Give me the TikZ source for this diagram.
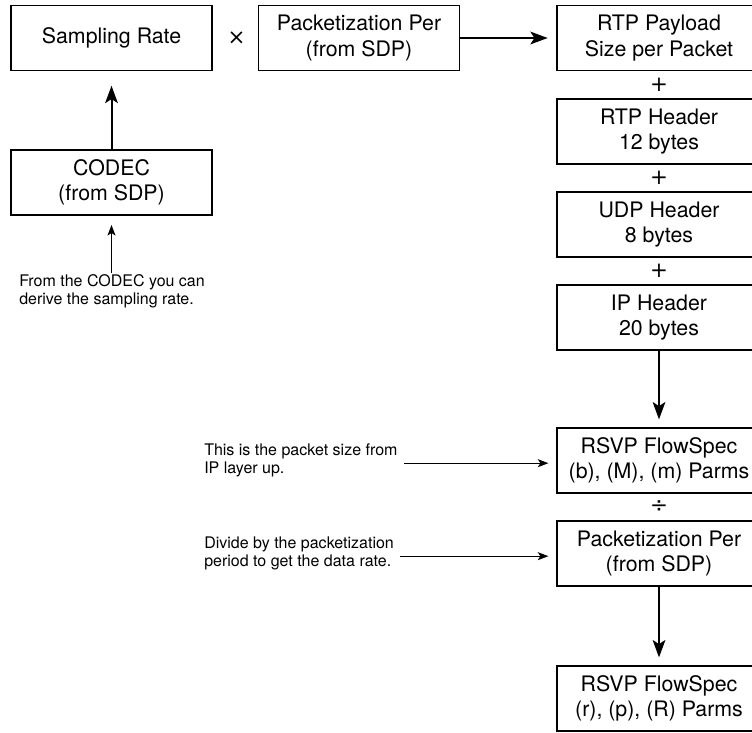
\documentclass[tikz,border=0pt]{standalone}
\usepackage{fontspec}
\setmainfont{TeX Gyre Heros}
\newfontfamily\signfont{DejaVu Sans}
\usetikzlibrary{arrows.meta}
\tikzset{
  blockbox/.style={draw, line width=0.9pt, minimum width=150.75pt, minimum height=48.75pt, align=center,
    inner sep=0pt, font=\fontsize{16}{19}\selectfont},
  widebox/.style={blockbox, minimum width=153pt},
  opsign/.style={inner sep=0pt, font=\signfont\fontsize{16}{16}\selectfont},
  notetext/.style={anchor=west, align=left, inner sep=0.75pt, font=\fontsize{12}{13.5}\selectfont},
  bigarrow/.style={line width=1.5pt, -{Stealth[length=13pt, width=9.5pt, inset=3pt]}},
  smallarrow/.style={line width=0.8pt, -{Stealth[length=8pt, width=6pt, inset=2pt]}},
}
\begin{document}
\begin{tikzpicture}[x=0.75pt,y=0.75pt,yscale=-1,xscale=1]
	\useasboundingbox (0,0) rectangle (752,732);
	% left column
	\node[blockbox] (rate) at (111.5,38) {Sampling Rate};
	\node[blockbox] (codec) at (111.5,182.5) {CODEC\\(from SDP)};
	\node[notetext] (codecnote) at (18,291) {From the CODEC you can\\derive the sampling rate.};
	\node[opsign] (times) at (236.5,38) {×};
	\node[blockbox] (packper) at (359,38) {Packetization Per\\(from SDP)};
	% right column
	\node[widebox] (payload) at (659,38) {RTP Payload\\Size per Packet};
	\node[opsign] (plusa) at (659,85) {+};
	\node[widebox] (rtphdr) at (659,131.5) {RTP Header\\12 bytes};
	\node[opsign] (plusb) at (659,178) {+};
	\node[widebox] (udphdr) at (659,224.5) {UDP Header\\8 bytes};
	\node[opsign] (plusc) at (659,271) {+};
	\node[widebox] (iphdr) at (659,317.5) {IP Header\\20 bytes};
	\node[widebox] (flowbm) at (659,460.5) {RSVP FlowSpec\\(b), (M), (m) Parms};
	\node[opsign] (divide) at (659,507) {÷};
	\node[widebox] (packpertwo) at (659,553.5) {Packetization Per\\(from SDP)};
	\node[widebox] (flowrp) at (659,698.5) {RSVP FlowSpec\\(r), (p), (R) Parms};
	% notes
	\node[notetext] (sizenote) at (203,460.5) {This is the packet size from\\IP layer up.};
	\node[notetext] (ratenote) at (203,553.5) {Divide by the packetization\\period to get the data rate.};
	% connectors
	\draw[bigarrow, shorten >=6.5pt] (packper.east) -- (payload.west);
	\draw[bigarrow, shorten >=11pt] (codec.north) -- (rate.south);
	\draw[smallarrow, shorten >=7pt] (codecnote.north -| codec.south) -- (codec.south);
	\draw[bigarrow, shorten >=6pt] (iphdr.south) -- (flowbm.north);
	\draw[bigarrow, shorten >=6pt] (packpertwo.south) -- (flowrp.north);
	\draw[smallarrow, shorten <=4pt, shorten >=6pt] ([yshift=2pt]sizenote.east |- flowbm.west) -- ([yshift=2pt]flowbm.west);
	\draw[smallarrow, shorten <=4pt, shorten >=6pt] ([yshift=2pt]ratenote.east |- packpertwo.west) -- ([yshift=2pt]packpertwo.west);
\end{tikzpicture}
\end{document}
